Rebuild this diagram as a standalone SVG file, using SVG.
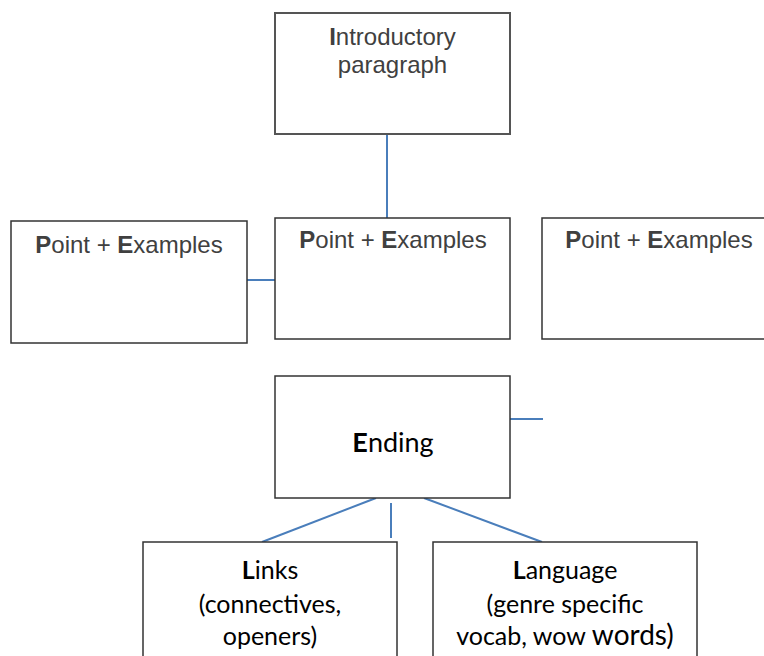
<svg xmlns="http://www.w3.org/2000/svg" width="764" height="656" viewBox="0 0 764 656">
<style>
.box{fill:#fff;stroke:#333;stroke-width:1.5}
.gbox{fill:#fff;stroke:#555;stroke-width:2}
.a{font-family:"Liberation Sans",Arial,sans-serif;font-size:24px;fill:#404040;text-anchor:middle}
.c{font-family:Lato,"Open Sans",sans-serif;font-size:25px;fill:#000;text-anchor:middle}
.b{font-weight:bold}
.con{stroke:#4a7ebb;stroke-width:2;fill:none}
</style>
<rect width="764" height="656" fill="#fff"/>
<g id="connectors">
<line class="con" x1="387" y1="134" x2="387" y2="220"/>
<line class="con" x1="247" y1="280" x2="275" y2="280"/>
<line class="con" x1="510" y1="419" x2="543" y2="419"/>
<line class="con" x1="376" y1="498" x2="262" y2="542"/>
<line class="con" x1="391" y1="503" x2="391" y2="538"/>
<line class="con" x1="424" y1="498" x2="542" y2="542"/>
</g>
<g id="intro">
<rect class="gbox" x="275" y="13" width="235" height="121"/>
<text class="a" x="392.5" y="45"><tspan class="b">I</tspan>ntroductory</text>
<text class="a" x="392.5" y="73">paragraph</text>
</g>
<g id="pe-left">
<rect class="box" x="11" y="221" width="236" height="122"/>
<text class="a" x="129" y="253"><tspan class="b">P</tspan>oint + <tspan class="b">E</tspan>xamples</text>
</g>
<g id="pe-middle">
<rect class="box" x="275" y="218" width="235" height="121"/>
<text class="a" x="393" y="248"><tspan class="b">P</tspan>oint + <tspan class="b">E</tspan>xamples</text>
</g>
<g id="pe-right">
<rect class="box" x="542" y="218" width="235" height="121"/>
<text class="a" x="659" y="248"><tspan class="b">P</tspan>oint + <tspan class="b">E</tspan>xamples</text>
</g>
<g id="ending">
<rect class="box" x="275" y="376" width="235" height="122"/>
<text class="c" x="393" y="452" style="font-size:27px"><tspan class="b">E</tspan>nding</text>
</g>
<g id="links">
<rect class="box" x="143" y="542" width="254" height="130"/>
<text class="c" x="270" y="579"><tspan class="b">L</tspan>inks</text>
<text class="c" x="270" y="613">(connectives,</text>
<text class="c" x="270" y="645">openers)</text>
</g>
<g id="language">
<rect class="box" x="433" y="542" width="264" height="130"/>
<text class="c" x="565" y="579"><tspan class="b">L</tspan>anguage</text>
<text class="c" x="565" y="613">(genre specific</text>
<text class="c" x="565" y="645">vocab, wow <tspan style="font-size:28px">words)</tspan></text>
</g>
</svg>
